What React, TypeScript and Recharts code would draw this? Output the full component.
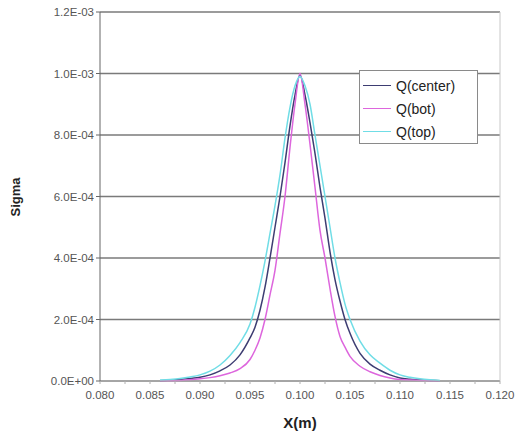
import React from "react";
import {
  LineChart,
  Line,
  XAxis,
  YAxis,
  CartesianGrid,
  ReferenceLine,
} from "recharts";

// x positions (m) shared by all three series
const X_POS = [
  0.086, 0.087, 0.088, 0.089, 0.09, 0.091, 0.092, 0.093, 0.094, 0.095,
  0.0955, 0.096, 0.0965, 0.097, 0.0975, 0.098, 0.0985, 0.099, 0.0995, 0.1,
  0.1005, 0.101, 0.1015, 0.102, 0.1025, 0.103, 0.1035, 0.104, 0.1045, 0.105,
  0.106, 0.107, 0.108, 0.109, 0.11, 0.111, 0.112, 0.113, 0.114,
];

const Q_CENTER = [
  1e-6, 3e-6, 5e-6, 8e-6, 1.2e-5, 2.0e-5, 3.3e-5, 5.2e-5, 8.5e-5, 1.4e-4,
  1.75e-4, 2.3e-4, 3.05e-4, 4.0e-4, 5.0e-4, 6.0e-4, 7.1e-4, 8.3e-4, 9.3e-4, 9.95e-4,
  9.3e-4, 8.4e-4, 7.4e-4, 6.3e-4, 5.3e-4, 4.2e-4, 3.3e-4, 2.6e-4, 2.0e-4, 1.55e-4,
  9.0e-5, 5.5e-5, 3.5e-5, 2.0e-5, 1.0e-5, 6e-6, 3e-6, 2e-6, 1e-6,
];

const Q_BOT = [
  5e-7, 1e-6, 2e-6, 4e-6, 7e-6, 1.1e-5, 1.7e-5, 2.6e-5, 4.0e-5, 7.0e-5,
  1.0e-4, 1.4e-4, 2.0e-4, 2.8e-4, 3.6e-4, 4.8e-4, 6.0e-4, 7.6e-4, 9.0e-4, 1.0e-3,
  9.0e-4, 7.7e-4, 6.3e-4, 4.9e-4, 4.0e-4, 3.0e-4, 2.1e-4, 1.45e-4, 1.1e-4, 8.0e-5,
  4.8e-5, 3.0e-5, 1.8e-5, 1.0e-5, 5e-6, 3e-6, 2e-6, 1e-6, 5e-7,
];

const Q_TOP = [
  3e-6, 5e-6, 8e-6, 1.3e-5, 2.0e-5, 3.2e-5, 5.2e-5, 8.3e-5, 1.25e-4, 1.85e-4,
  2.4e-4, 3.1e-4, 3.9e-4, 4.8e-4, 5.7e-4, 6.7e-4, 7.9e-4, 8.9e-4, 9.6e-4, 9.9e-4,
  9.6e-4, 9.0e-4, 8.0e-4, 7.0e-4, 6.0e-4, 5.0e-4, 4.0e-4, 3.2e-4, 2.5e-4, 2.0e-4,
  1.3e-4, 8.5e-5, 5.8e-5, 3.5e-5, 2.0e-5, 1.2e-5, 7e-6, 4e-6, 2e-6,
];

const X_TICKS = [
  0.08, 0.0825, 0.085, 0.0875, 0.09, 0.0925, 0.095, 0.0975, 0.1, 0.1025,
  0.105, 0.1075, 0.11, 0.1125, 0.115, 0.1175, 0.12,
];
const Y_TICKS = [0, 0.0002, 0.0004, 0.0006, 0.0008, 0.001, 0.0012];

const SERIES = [
  { key: "center", name: "Q(center)", color: "#3d3d72" },
  { key: "bot", name: "Q(bot)", color: "#dd66dd" },
  { key: "top", name: "Q(top)", color: "#70dde6" },
];

const data = X_POS.map((x, i) => ({
  x,
  center: Q_CENTER[i],
  bot: Q_BOT[i],
  top: Q_TOP[i],
}));

const FONT = "'Liberation Sans', Arial, sans-serif";

const fmtSci = (v: number) => {
  if (v === 0) return "0.0E+00";
  const exp = Math.floor(Math.log10(Math.abs(v)) + 1e-9);
  const mant = v / Math.pow(10, exp);
  const sign = exp < 0 ? "-" : "+";
  const e = String(Math.abs(exp)).padStart(2, "0");
  return `${mant.toFixed(1)}E${sign}${e}`;
};

// only every 0.005 gets a label, the in-between ticks stay bare
const fmtX = (v: number) => {
  const k = v * 200;
  if (Math.abs(Math.round(k) - k) > 1e-6) return "";
  return v.toFixed(3);
};

const LegendBox = () => (
  <div
    style={{
      position: "absolute",
      left: 359,
      top: 70,
      background: "#fff",
      border: "1px solid #8a8a8a",
      width: 119,
      height: 74,
      boxSizing: "border-box",
      fontFamily: FONT,
      fontSize: 14,
      color: "#222",
      paddingTop: 3,
    }}
  >
    {SERIES.map((s) => (
      <div
        key={s.key}
        style={{ display: "flex", alignItems: "center", height: 23 }}
      >
        <span
          style={{
            display: "inline-block",
            width: 28,
            height: 1.5,
            marginLeft: 3,
            background: s.color,
          }}
        />
        <span style={{ marginLeft: 5 }}>{s.name}</span>
      </div>
    ))}
  </div>
);

export default function App() {
  return (
    <div
      style={{
        position: "absolute",
        left: 0,
        top: 0,
        width: 519,
        height: 446,
        background: "#fff",
      }}
    >
      <LineChart
        width={519}
        height={446}
        data={data}
        margin={{ top: 12, right: 19, bottom: 35, left: 0 }}
      >
        <CartesianGrid vertical={false} stroke="#7a7a7a" strokeWidth={1.5} />
        <ReferenceLine x={0.12} stroke="#c8c8c8" strokeWidth={1} />
        <XAxis
          dataKey="x"
          type="number"
          domain={[0.08, 0.12]}
          ticks={X_TICKS}
          tickFormatter={fmtX}
          interval={0}
          allowDataOverflow
          height={30}
          stroke="#b0b0b0"
          tickSize={3}
          tick={{ fontSize: 11.5, fill: "#555", fontFamily: FONT, dy: 5 }}
          label={{
            content: () => (
              <text
                x={300}
                y={428}
                textAnchor="middle"
                fontFamily={FONT}
                fontWeight="bold"
                fontSize={15}
                fill="#222"
              >
                X(m)
              </text>
            ),
          }}
        />
        <YAxis
          type="number"
          domain={[0, 0.0012]}
          ticks={Y_TICKS}
          tickFormatter={fmtSci}
          interval={0}
          width={100}
          stroke="#666"
          tickSize={4}
          tick={{ fontSize: 11.5, fill: "#555", fontFamily: FONT }}
          label={{
            content: () => (
              <text
                x={20}
                y={197}
                textAnchor="middle"
                transform="rotate(-90 20 197)"
                fontFamily={FONT}
                fontWeight="bold"
                fontSize={13}
                fill="#222"
              >
                Sigma
              </text>
            ),
          }}
        />
        {SERIES.map((s) => (
          <Line
            key={s.key}
            type="monotone"
            dataKey={s.key}
            name={s.name}
            stroke={s.color}
            strokeWidth={1.5}
            dot={false}
            isAnimationActive={false}
          />
        ))}
      </LineChart>
      <LegendBox />
    </div>
  );
}
